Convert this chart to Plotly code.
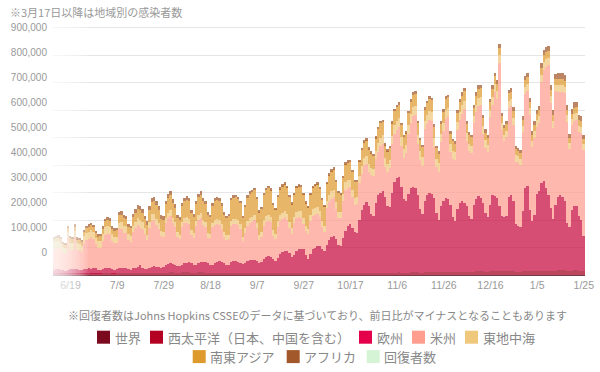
import plotly.graph_objects as go
import pandas as pd

# ---------------- data (daily new cases, thousands) ----------------
dates = pd.date_range("2020-06-12", "2021-01-25", freq="D")

wp_k = [
    4, 5, 5, 4, 4,
    4, 5, 5, 5, 5, 5, 4,
    4, 5, 5, 6, 5, 5, 5,
    5, 5, 6, 6, 6, 6, 5,
    5, 6, 6, 7, 7, 6, 6,
    6, 7, 7, 8, 8, 8, 7,
    7, 8, 8, 9, 9, 8, 8,
    8, 9, 9, 10, 10, 9, 9,
    9, 10, 10, 10, 10, 9, 9,
    9, 10, 10, 10, 9, 9, 8,
    8, 9, 9, 9, 9, 8, 8,
    8, 8, 8, 8, 8, 7, 7,
    7, 8, 8, 8, 8, 7, 7,
    7, 7, 8, 8, 8, 7, 7,
    7, 7, 7, 8, 8, 7, 6,
    6, 7, 7, 7, 7, 6, 6,
    6, 7, 7, 7, 7, 6, 6,
    6, 7, 7, 7, 7, 6, 6,
    6, 7, 7, 7, 7, 6, 6,
    7, 8, 8, 8, 8, 7, 7,
    8, 8, 9, 9, 8, 8, 8,
    8, 9, 9, 10, 9, 9, 8,
    9, 10, 10, 10, 10, 9, 9,
    10, 10, 11, 11, 10, 10, 10,
    10, 11, 11, 11, 11, 10, 10,
    11, 12, 12, 12, 12, 11, 11,
    12, 13, 13, 13, 13, 12, 12,
    13, 14, 14, 14, 14, 13, 13,
    13, 14, 14, 14, 12, 12, 12,
    13, 15, 15, 14, 13, 14, 15,
    15, 16, 16, 16, 16, 15, 15,
    16, 17, 17, 17, 17, 16, 15,
    16, 17, 17, 16, 16, 14,
]

eu_k = [
    16, 16, 17, 16, 13,
    12, 15, 17, 18, 17, 16, 14,
    13, 16, 17, 18, 18, 19, 22,
    14, 13, 16, 18, 19, 18, 17,
    14, 15, 18, 19, 18, 18, 15,
    14, 17, 19, 20, 28, 19, 16,
    15, 19, 22, 22, 21, 21, 17,
    20, 27, 31, 32, 31, 29, 23,
    22, 28, 34, 35, 36, 33, 27,
    26, 32, 36, 38, 38, 36, 30,
    28, 35, 39, 41, 40, 36, 30,
    30, 38, 42, 42, 41, 38, 33,
    35, 42, 46, 48, 47, 43, 37,
    41, 51, 56, 60, 58, 53, 45,
    55, 69, 75, 78, 79, 73, 60,
    66, 81, 88, 89, 86, 66, 52,
    72, 89, 93, 97, 98, 89, 81,
    104, 121, 131, 134, 123, 102, 99,
    130, 153, 171, 177, 163, 150, 146,
    193, 227, 247, 256, 242, 215, 207,
    254, 282, 291, 295, 277, 242, 240,
    292, 331, 343, 345, 311, 269, 260,
    286, 305, 312, 308, 280, 231, 213,
    260, 282, 289, 285, 270, 215, 190,
    240, 259, 271, 265, 244, 200, 188,
    229, 250, 256, 250, 238, 204, 194,
    243, 262, 273, 269, 249, 213, 200,
    242, 276, 273, 267, 236, 201, 199,
    201, 271, 279, 255, 172, 166, 163,
    219, 303, 308, 224, 185, 206, 280,
    290, 319, 325, 302, 274, 230, 190,
    239, 268, 276, 268, 253, 174, 161,
    219, 235, 233, 198, 184, 127,
]

am_k = [
    75, 74, 76, 74, 62,
    61, 113, 70, 67, 113, 71, 74,
    68, 95, 105, 108, 114, 108, 86,
    80, 82, 102, 123, 126, 127, 102,
    98, 94, 142, 141, 129, 129, 107,
    101, 132, 144, 154, 140, 142, 125,
    105, 145, 168, 168, 152, 140, 116,
    112, 152, 167, 173, 147, 135, 108,
    100, 136, 144, 146, 140, 104, 100,
    145, 158, 160, 135, 127, 91, 96,
    137, 139, 138, 133, 118, 94, 91,
    93, 134, 135, 137, 133, 124, 82,
    112, 128, 134, 136, 146, 121, 84,
    90, 122, 129, 129, 126, 82, 80,
    114, 121, 122, 124, 115, 91, 85,
    119, 120, 115, 113, 92, 87, 91,
    120, 119, 119, 119, 105, 80, 71,
    134, 137, 139, 143, 111, 98, 101,
    133, 150, 138, 135, 114, 97, 106,
    135, 134, 140, 140, 124, 141, 145,
    159, 159, 168, 172, 109, 125, 142,
    176, 174, 176, 183, 148, 149, 175,
    220, 238, 255, 264, 187, 180, 176,
    262, 259, 265, 265, 187, 168, 176,
    235, 254, 286, 301, 191, 212, 219,
    289, 301, 319, 342, 237, 235, 239,
    298, 317, 330, 338, 252, 238, 235,
    321, 330, 379, 360, 523, 312, 274,
    287, 324, 321, 278, 229, 232, 226,
    288, 340, 346, 344, 267, 279, 243,
    248, 366, 405, 439, 473, 381, 331,
    413, 381, 374, 380, 391, 367, 281,
    311, 310, 315, 307, 318, 315,
]

em_k = [
    24, 25, 25, 24, 22,
    22, 25, 26, 26, 25, 24, 22,
    22, 25, 26, 26, 26, 25, 23,
    23, 23, 25, 26, 26, 25, 24,
    22, 23, 25, 25, 24, 24, 22,
    21, 23, 24, 24, 24, 23, 22,
    20, 22, 23, 23, 22, 22, 20,
    18, 19, 20, 20, 19, 19, 18,
    16, 18, 19, 19, 18, 18, 17,
    17, 18, 19, 19, 18, 17, 16,
    17, 18, 18, 18, 17, 17, 16,
    16, 18, 18, 18, 17, 17, 16,
    17, 19, 20, 20, 19, 19, 18,
    18, 20, 21, 21, 20, 20, 19,
    20, 22, 22, 22, 21, 21, 20,
    21, 23, 23, 23, 22, 21, 20,
    22, 24, 25, 25, 24, 23, 22,
    24, 26, 27, 27, 26, 25, 24,
    25, 27, 28, 28, 27, 26, 25,
    27, 29, 30, 30, 29, 28, 27,
    29, 31, 32, 32, 31, 30, 29,
    31, 33, 34, 34, 33, 32, 31,
    31, 33, 34, 34, 33, 32, 31,
    30, 32, 33, 33, 32, 31, 30,
    29, 31, 32, 32, 31, 30, 29,
    28, 30, 30, 30, 29, 28, 27,
    26, 28, 29, 29, 28, 27, 26,
    25, 27, 28, 28, 27, 26, 25,
    24, 26, 27, 26, 22, 22, 22,
    23, 26, 27, 25, 23, 24, 25,
    24, 27, 28, 28, 27, 26, 25,
    24, 26, 26, 26, 25, 24, 22,
    22, 24, 24, 23, 22, 20,
]

sea_k = [
    14, 15, 15, 14, 13,
    13, 15, 16, 16, 16, 15, 14,
    14, 16, 17, 18, 18, 17, 16,
    18, 19, 20, 22, 23, 22, 21,
    22, 24, 26, 28, 28, 27, 26,
    28, 31, 33, 35, 36, 35, 33,
    36, 42, 46, 48, 49, 47, 44,
    44, 50, 54, 56, 55, 53, 50,
    52, 58, 62, 64, 64, 62, 58,
    60, 65, 68, 68, 67, 64, 60,
    62, 68, 70, 70, 68, 65, 62,
    66, 74, 77, 78, 77, 75, 70,
    76, 84, 88, 90, 90, 87, 82,
    85, 92, 96, 97, 96, 93, 88,
    88, 94, 97, 98, 96, 92, 87,
    82, 88, 90, 89, 87, 82, 78,
    74, 80, 82, 82, 80, 76, 70,
    66, 72, 74, 74, 72, 68, 64,
    60, 66, 67, 66, 64, 60, 56,
    52, 57, 58, 57, 55, 52, 48,
    48, 52, 52, 50, 48, 46, 44,
    46, 50, 50, 48, 46, 44, 42,
    42, 45, 45, 44, 42, 40, 38,
    40, 43, 43, 42, 40, 38, 36,
    37, 40, 40, 38, 36, 34, 32,
    33, 36, 36, 35, 33, 31, 30,
    30, 32, 32, 31, 30, 28, 27,
    27, 29, 29, 28, 27, 25, 24,
    23, 26, 26, 25, 22, 21, 21,
    22, 25, 25, 23, 21, 22, 23,
    22, 25, 26, 25, 24, 23, 22,
    20, 22, 22, 22, 21, 20, 19,
    19, 21, 21, 20, 19, 18,
]

af_k = [
    7, 7, 7, 6, 6,
    6, 7, 8, 8, 8, 7, 7,
    7, 8, 8, 9, 9, 8, 8,
    8, 8, 9, 10, 10, 10, 9,
    9, 10, 11, 12, 12, 11, 10,
    10, 12, 13, 14, 14, 13, 12,
    12, 14, 15, 15, 15, 14, 13,
    12, 13, 14, 14, 13, 13, 12,
    11, 12, 13, 13, 12, 12, 11,
    11, 12, 12, 12, 11, 11, 10,
    10, 11, 11, 11, 10, 10, 9,
    9, 10, 10, 10, 9, 9, 8,
    8, 9, 9, 9, 8, 8, 7,
    7, 8, 8, 8, 7, 7, 6,
    6, 7, 7, 7, 6, 6, 6,
    6, 6, 7, 7, 6, 6, 5,
    6, 6, 7, 7, 6, 6, 5,
    6, 7, 7, 7, 6, 6, 6,
    6, 7, 7, 7, 7, 6, 6,
    6, 7, 7, 7, 7, 7, 6,
    7, 8, 8, 8, 7, 7, 7,
    7, 8, 8, 8, 8, 7, 7,
    8, 9, 9, 9, 8, 8, 8,
    8, 9, 9, 9, 9, 8, 8,
    9, 10, 10, 10, 10, 9, 9,
    10, 11, 12, 12, 11, 11, 10,
    11, 13, 13, 13, 12, 12, 11,
    12, 14, 14, 14, 13, 13, 12,
    12, 14, 15, 14, 11, 11, 11,
    13, 16, 16, 15, 14, 15, 16,
    16, 19, 20, 20, 19, 18, 17,
    18, 21, 22, 22, 21, 19, 17,
    18, 21, 21, 20, 19, 17,
]

legend_names = ["世界", "西太平洋（日本、中国を含む）", "欧州", "米州", "東地中海",
                "南東アジア", "アフリカ", "回復者数"]
legend_colors = ["#7b0a1e", "#b40022", "#e4004b", "#ff9d8f", "#f0c87c",
                 "#df9a2e", "#a2582a", "#d5f3d5"]
# bar fills (drawn semi-transparent, a touch deeper than the legend swatches)
bar_colors = ["#7b0a1e", "#a0001e", "#c80a40", "#ff9d8f", "#f0c87c",
              "#df9a2e", "#a2582a", "#d5f3d5"]

y_tick_vals = [0, 100, 200, 300, 400, 500, 600, 700, 800, 900]
y_tick_labels = ["0", "100,000", "200,000", "300,000", "400,000", "500,000",
                 "600,000", "700,000", "800,000", "900,000"]

title_text = "※3月17日以降は地域別の感染者数"
note_text = "※回復者数はJohns Hopkins CSSEのデータに基づいており、前日比がマイナスとなることもあります"

for arr in (wp_k, eu_k, am_k, em_k, sea_k, af_k):
    assert len(arr) == len(dates), len(arr)

# ---------------- figure ----------------
stack = [
    (legend_names[1], wp_k, bar_colors[1]),
    (legend_names[2], eu_k, bar_colors[2]),
    (legend_names[3], am_k, bar_colors[3]),
    (legend_names[4], em_k, bar_colors[4]),
    (legend_names[5], sea_k, bar_colors[5]),
    (legend_names[6], af_k, bar_colors[6]),
]

fig = go.Figure()
for name, vals, col in stack:
    fig.add_trace(go.Bar(
        x=dates, y=vals, name=name,
        marker=dict(color=col, opacity=0.72, line=dict(width=0)),
        showlegend=False, hoverinfo="skip",
    ))
# invisible trace carrying the (offset) tick-label axis
fig.add_trace(go.Scatter(x=[None], y=[None], yaxis="y2", mode="markers",
                         showlegend=False, hoverinfo="skip"))

W, H = 600, 372
PL, PT, PW, PH = 53, 25, 532, 250           # plot area in window pixels
L, T = PL, PT
R, B = W - L - PW, H - T - PH


def px_x(p):
    return (p - PL) / PW


def px_y(p):
    return (PT + PH - p) / PH


num_font = "Liberation Sans, Arial, sans-serif"
jp_font = "Noto Sans CJK JP, sans-serif"

fig.update_layout(
    width=W, height=H,
    margin=dict(l=L, r=R, t=T, b=B, pad=0, autoexpand=False),
    barmode="stack", bargap=0.18,
    plot_bgcolor="white", paper_bgcolor="white",
    showlegend=False,
    font=dict(family=jp_font, color="#888"),
    xaxis=dict(
        type="date",
        range=["2020-06-11 12:00", "2021-01-25 12:00"],
        tick0="2020-06-19", dtick=20 * 86400000, tickformat="%-m/%-d",
        tickfont=dict(family=num_font, size=10.5, color="#999"),
        showgrid=False, showline=True, linecolor="#7a3b48", linewidth=1,
        ticks="", zeroline=False, automargin=False,
    ),
    yaxis=dict(
        range=[0, 910], tick0=0, dtick=100,
        showgrid=True, gridcolor="#e6e6e6", gridwidth=1,
        showticklabels=False, zeroline=False, showline=False, ticks="",
        automargin=False,
    ),
    yaxis2=dict(
        overlaying="y", side="left", range=[-90, 910],
        tickmode="array", tickvals=y_tick_vals, ticktext=y_tick_labels,
        showgrid=False, zeroline=False, showline=False,
        ticks="outside", ticklen=3, tickcolor="rgba(0,0,0,0)",
        tickfont=dict(family=num_font, size=10, color="#999"),
        automargin=False,
    ),
)

shapes = []
annotations = []

# left white fade over the first bars and the first date label
for end in range(52, 90, 2):
    shapes.append(dict(
        type="rect", xref="paper", yref="paper",
        x0=px_x(50), x1=px_x(end), y0=px_y(297), y1=px_y(24),
        fillcolor="white", line=dict(width=0), opacity=0.085, layer="above",
    ))

# titles
annotations.append(dict(
    text=title_text, xref="paper", yref="paper", x=px_x(9), y=px_y(12.5),
    xanchor="left", yanchor="middle", showarrow=False, borderpad=0,
    font=dict(family=jp_font, size=11, color="#999"),
))
annotations.append(dict(
    text=note_text, xref="paper", yref="paper", x=px_x(317), y=px_y(315),
    xanchor="center", yanchor="middle", showarrow=False, borderpad=0,
    font=dict(family=jp_font, size=11, color="#888"),
))

# legend (two centred rows)
ROW1, ROW2 = 337.2, 356.6
legend_slots = [(97, ROW1), (150, ROW1), (359, ROW1), (412, ROW1), (465, ROW1),
                (192.7, ROW2), (286.7, ROW2), (366.7, ROW2)]
SQ = 13
for name, col, (sx, cy) in zip(legend_names, legend_colors, legend_slots):
    shapes.append(dict(
        type="rect", xref="paper", yref="paper",
        x0=px_x(sx), x1=px_x(sx + SQ), y0=px_y(cy + SQ / 2), y1=px_y(cy - SQ / 2),
        fillcolor=col, line=dict(width=0), layer="above",
    ))
    annotations.append(dict(
        text=name, xref="paper", yref="paper", x=px_x(sx + SQ + 3.5), y=px_y(cy),
        xanchor="left", yanchor="middle", showarrow=False, borderpad=0,
        font=dict(family=jp_font, size=13, color="#888"),
    ))

fig.update_layout(shapes=shapes, annotations=annotations)
# remove the browser's default 8px body margin so the figure fills the window
fig.write_html("out.html", config={"displayModeBar": False},
               post_script="document.body.style.margin='0px';")
